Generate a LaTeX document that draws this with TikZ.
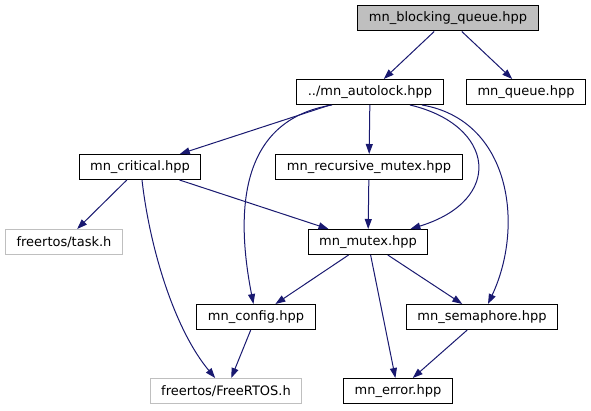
\documentclass[tikz,border=0pt]{standalone}
\usepackage{fontspec}
\setmainfont{DejaVu Sans}
\usepackage{xcolor}
\usepackage{tikz}
\usetikzlibrary{arrows.meta, positioning}
\definecolor{mynavy}{RGB}{25,25,112}
\definecolor{mygrey}{RGB}{191,191,191}
\tikzset{
  file/.style={rectangle, draw=black, fill=white, minimum height=25pt,
    inner xsep=11pt, font=\fontsize{13}{15}\selectfont, line width=1pt},
  mainfile/.style={file, fill=mygrey},
  extfile/.style={file, draw=mygrey},
  arrow/.style={-{Triangle[length=10pt, width=7pt]}, line width=1pt, color=mynavy}
}

\begin{document}
\begin{tikzpicture}[x=1pt, y=-1pt, every node/.style={align=center}]
  \useasboundingbox (0,0) rectangle (591,411);

  % Include graph rows, top to bottom
  \node[mainfile] (blocking) at (448, 18.5) {mn\_blocking\_queue.hpp};

  \node[file] (autolock) at (370, 92) {../mn\_autolock.hpp};
  \node[file] (queue) at (526, 92) {mn\_queue.hpp};

  \node[file] (critical) at (140, 167) {mn\_critical.hpp};
  \node[file] (recmutex) at (369, 167) {mn\_recursive\_mutex.hpp};

  \node[extfile] (task) at (64, 242) {freertos/task.h};
  \node[file] (mutex) at (368, 242) {mn\_mutex.hpp};

  \node[file] (config) at (256, 317) {mn\_config.hpp};
  \node[file] (semaphore) at (482, 317) {mn\_semaphore.hpp};

  \node[extfile] (freertos) at (226, 391) {freertos/FreeRTOS.h};
  \node[file] (error) at (398, 391) {mn\_error.hpp};

  % Straight includes
  \draw[arrow] (blocking) -- (autolock);
  \draw[arrow] (blocking) -- (queue);
  \draw[arrow] (autolock) -- (critical);
  \draw[arrow] (autolock) -- (recmutex);
  \draw[arrow] (recmutex) -- (mutex);
  \draw[arrow] (critical) -- (task);
  \draw[arrow] (critical) -- (mutex);
  \draw[arrow] (mutex) -- (config);
  \draw[arrow] (mutex) -- (semaphore);
  \draw[arrow] (mutex) -- (error);
  \draw[arrow] (config) -- (freertos);
  \draw[arrow] (semaphore) -- (error);

  % Curved includes
  \draw[arrow] ([xshift=-38pt]autolock.south) .. controls (240,120) and (235,210) .. (config);
  \draw[arrow] ([xshift=40pt]autolock.south) .. controls (495,125) and (505,200) .. (mutex);
  \draw[arrow] ([xshift=52pt]autolock.south) .. controls (510,120) and (525,225) .. ([xshift=6pt]semaphore.north);
  \draw[arrow] ([xshift=2pt]critical.south) .. controls (150,250) and (175,330) .. (freertos);
\end{tikzpicture}
\end{document}
